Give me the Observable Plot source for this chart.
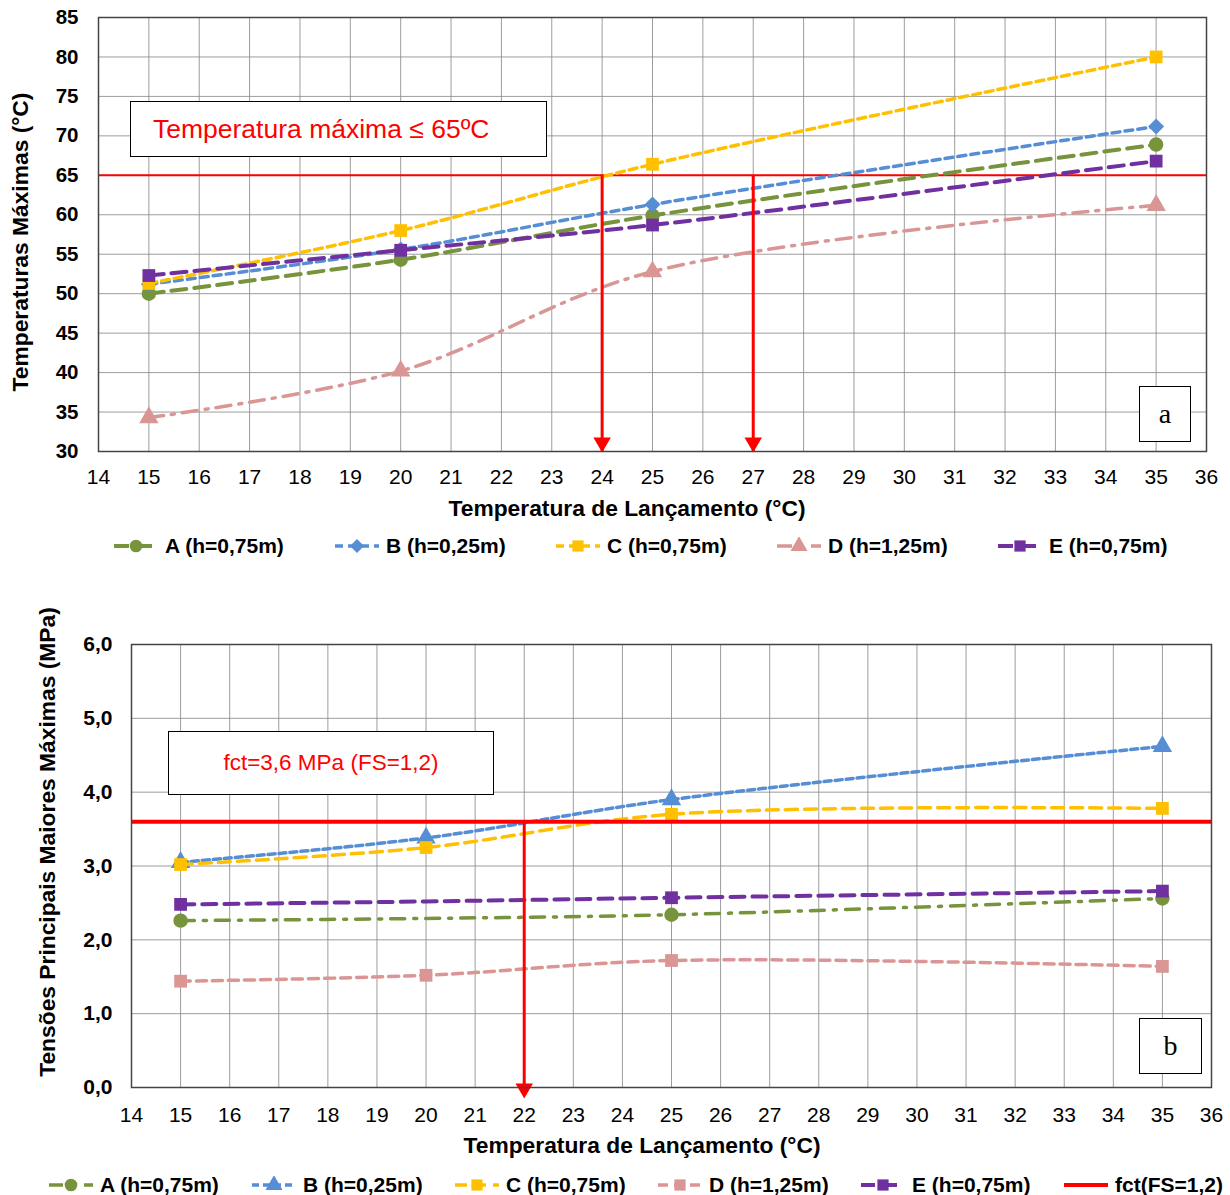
<!DOCTYPE html>
<html><head><meta charset="utf-8">
<script src="https://cdn.jsdelivr.net/npm/d3@7"></script>
<script src="https://cdn.jsdelivr.net/npm/@observablehq/plot@0.6"></script>
<style>
body{margin:0;background:#fff;font-family:"Liberation Sans",Arial,sans-serif;}
#root{position:relative;width:1230px;height:1195px;overflow:hidden;background:#fff;}
.panel{position:absolute;left:0;}
.panel svg{overflow:visible;}
.box{position:absolute;border:1.3px solid #000;background:#fff;box-sizing:border-box;display:flex;align-items:center;}
.title{position:absolute;font-weight:bold;font-size:22.8px;color:#000;white-space:nowrap;transform:translate(-50%,-50%);}
.ytitle{transform:translate(-50%,-50%) rotate(-90deg);}
.legend{position:absolute;display:flex;font-weight:bold;font-size:21px;white-space:nowrap;}
.legend .item{display:flex;align-items:center;}
.legend svg{margin-right:6px;}
.tag{font-family:"Liberation Serif","Times New Roman",serif;font-size:28px;justify-content:center;}
</style>
</head><body>
<div id="root"></div>
<script>
// ---------- data ----------
const launchTemps = [15, 20, 25, 35];
const seriesLabels = ["A (h=0,75m)", "B (h=0,25m)", "C (h=0,75m)", "D (h=1,25m)", "E (h=0,75m)"];
// panel a: maximum temperatures (°C)
const tempA = [50.0, 54.3, 59.9, 68.9];
const tempB = [51.2, 55.6, 61.3, 71.2];
const tempC = [51.3, 58.0, 66.4, 80.0];
const tempD = [34.3, 40.2, 52.8, 61.2];
const tempE = [52.3, 55.5, 58.7, 66.8];
// panel b: maximum principal stresses (MPa)
const stressA = [2.26, 2.29, 2.34, 2.56];
const stressB = [3.05, 3.38, 3.90, 4.62];
const stressC = [3.02, 3.25, 3.70, 3.78];
const stressD = [1.44, 1.52, 1.72, 1.64];
const stressE = [2.48, 2.52, 2.57, 2.66];
const tempLimit = 65;
const stressLimit = 3.6;
const tempArrowsAt = [24, 27];
const stressArrowsAt = [22];
const xTicks = d3.range(14, 37, 1);
const tempTicks = d3.range(30, 86, 5);
const stressTicks = [0, 1, 2, 3, 4, 5, 6];
const limitLegendLabel = "fct(FS=1,2)";

// ---------- styles ----------
const RED = "#FF0000";
const stylesA = [
  {color:"#77933C", dash:"15,8", symbol:"circle", width:4},
  {color:"#558ED5", dash:"8,5", symbol:"diamond2", width:3.5},
  {color:"#FFC000", dash:"8,5", symbol:"square", width:3.5},
  {color:"#D99694", dash:"15,8,3,8", symbol:"triangle", width:3.5},
  {color:"#7030A0", dash:"15,8", symbol:"square", width:4}
];
const stylesB = [
  {color:"#77933C", dash:"14,9,3,9", symbol:"circle", width:3.5, noMarkerAt:[20]},
  {color:"#558ED5", dash:"7,4", symbol:"triangle", width:3.5},
  {color:"#FFC000", dash:"12,7", symbol:"square", width:3.5},
  {color:"#D99694", dash:"10,6", symbol:"square", width:3.5},
  {color:"#7030A0", dash:"14,8", symbol:"square", width:4, noMarkerAt:[20]}
];

function toRows(values) { return launchTemps.map((t, i) => ({x: t, y: values[i]})); }

function seriesMarks(allValues, styles) {
  const marks = [];
  allValues.forEach((vals, i) => {
    const s = styles[i];
    const rows = toRows(vals);
    const hidden = s.noMarkerAt || [];
    marks.push(Plot.line(rows, {x:"x", y:"y", stroke:s.color, strokeWidth:s.width, strokeDasharray:s.dash, curve:"catmull-rom"}));
    marks.push(Plot.dot(rows.filter(r => !hidden.includes(r.x)), {x:"x", y:"y", symbol:s.symbol, fill:s.color, stroke:"none", r:7.2}));
  });
  return marks;
}

const root = document.getElementById("root");
const fmtComma = d => d.toFixed(1).replace(".", ",");
const baseStyle = {fontFamily: "'Liberation Sans', Arial, sans-serif", fontSize: "21px", color: "#000", background: "transparent"};

// ---------- panel a ----------
const plotA = Plot.plot({
  width: 1230, height: 525,
  marginTop: 17, marginRight: 24, marginBottom: 74, marginLeft: 98,
  style: baseStyle,
  x: {domain: [14, 36]},
  y: {domain: [30, 85]},
  marks: [
    Plot.gridX(xTicks, {stroke:"#8c8c8c", strokeOpacity:0.85, strokeWidth:1}),
    Plot.gridY(tempTicks, {stroke:"#8c8c8c", strokeOpacity:0.85, strokeWidth:1}),
    Plot.axisX({ticks: xTicks, tickSize: 0, tickPadding: 18, label: null, fontSize: 21}),
    Plot.axisY({ticks: tempTicks, tickSize: 0, tickPadding: 20, label: null, fontWeight: "bold", fontSize: 20.5}),
    Plot.ruleY([tempLimit], {stroke: RED, strokeWidth: 2}),
    ...seriesMarks([tempA, tempB, tempC, tempD, tempE], stylesA),
    Plot.ruleX(tempArrowsAt, {y1: tempLimit, y2: 30, stroke: RED, strokeWidth: 3}),
    Plot.dot(tempArrowsAt, {x: d => d, y: () => 30, symbol: "triangle", rotate: 180, r: 6.5, fill: RED, dy: -9}),
    Plot.frame({stroke: "#444", strokeWidth: 1.5})
  ]
});
const wrapA = document.createElement("div");
wrapA.className = "panel"; wrapA.style.top = "0px";
wrapA.appendChild(plotA);
root.appendChild(wrapA);

// ---------- panel b ----------
const plotB = Plot.plot({
  width: 1230, height: 560,
  marginTop: 44, marginRight: 19, marginBottom: 73, marginLeft: 131,
  style: baseStyle,
  x: {domain: [14, 36]},
  y: {domain: [0, 6]},
  marks: [
    Plot.gridX(xTicks, {stroke:"#8c8c8c", strokeOpacity:0.85, strokeWidth:1}),
    Plot.gridY(stressTicks, {stroke:"#8c8c8c", strokeOpacity:0.85, strokeWidth:1}),
    Plot.axisX({ticks: xTicks, tickSize: 0, tickPadding: 20, label: null, fontSize: 21}),
    Plot.axisY({ticks: stressTicks, tickSize: 0, tickPadding: 19, label: null, fontWeight: "bold", fontSize: 21, tickFormat: fmtComma}),
    ...seriesMarks([stressA, stressB, stressC, stressD, stressE], stylesB),
    Plot.ruleY([stressLimit], {stroke: RED, strokeWidth: 4}),
    Plot.ruleX(stressArrowsAt, {y1: stressLimit, y2: 0, stroke: RED, strokeWidth: 3}),
    Plot.dot(stressArrowsAt, {x: d => d, y: () => 0, symbol: "triangle", rotate: 180, r: 6.5, fill: RED, dy: 1}),
    Plot.frame({stroke: "#444", strokeWidth: 1.5})
  ]
});
const wrapB = document.createElement("div");
wrapB.className = "panel"; wrapB.style.top = "600px";
wrapB.appendChild(plotB);
root.appendChild(wrapB);

// ---------- overlays ----------
function addDiv(cls, css, html) {
  const d = document.createElement("div");
  d.className = cls; d.style.cssText = css; d.innerHTML = html;
  root.appendChild(d); return d;
}
addDiv("box", "left:130px;top:101px;width:417px;height:56px;color:#FF0000;font-size:26.5px;padding-left:22px;", "Temperatura máxima ≤ 65ºC");
addDiv("box tag", "left:1139px;top:386px;width:52px;height:56px;", "a");
addDiv("box", "left:168px;top:731px;width:326px;height:64px;color:#FF0000;font-size:22.5px;justify-content:center;", "fct=3,6 MPa (FS=1,2)");
addDiv("box tag", "left:1139px;top:1018px;width:63px;height:56px;", "b");

addDiv("title", "left:627px;top:508px;", "Temperatura de Lançamento (°C)");
addDiv("title ytitle", "left:20px;top:242px;", "Temperaturas Máximas (°C)");
addDiv("title", "left:642px;top:1145px;", "Temperatura de Lançamento (°C)");
addDiv("title ytitle", "left:47px;top:842px;", "Tensões Principais Maiores Máximas (MPa)");

// legends
function swatch(s, w) {
  const ns = "http://www.w3.org/2000/svg";
  const svg = document.createElementNS(ns, "svg");
  svg.setAttribute("width", 46); svg.setAttribute("height", 18);
  const line = document.createElementNS(ns, "line");
  line.setAttribute("x1", 1); line.setAttribute("x2", 45);
  line.setAttribute("y1", 9); line.setAttribute("y2", 9);
  line.setAttribute("stroke", s.color);
  line.setAttribute("stroke-width", w || s.width);
  if (s.dash) line.setAttribute("stroke-dasharray", s.dash);
  svg.appendChild(line);
  if (s.symbol) {
    const p = document.createElementNS(ns, "path");
    const sym = {circle: d3.symbolCircle, square: d3.symbolSquare, triangle: d3.symbolTriangle, diamond2: d3.symbolDiamond2}[s.symbol];
    p.setAttribute("d", d3.symbol(sym, Math.PI * 40)());
    p.setAttribute("transform", "translate(23,9)");
    p.setAttribute("fill", s.color);
    svg.appendChild(p);
  }
  return svg;
}
function legend(top, left, itemWidth, items) {
  const lg = addDiv("legend", `left:${left}px;top:${top}px;transform:translateY(-50%);`, "");
  items.forEach(it => {
    const d = document.createElement("div");
    d.className = "item"; d.style.width = itemWidth + "px";
    d.appendChild(swatch(it.style));
    const t = document.createElement("span"); t.textContent = it.label;
    d.appendChild(t); lg.appendChild(d);
  });
}
legend(546, 113, 221, seriesLabels.map((l, i) => ({label: l, style: stylesA[i]})));
legend(1185, 48, 203, [...seriesLabels.map((l, i) => ({label: l, style: stylesB[i]})),
  {label: limitLegendLabel, style: {color: RED, width: 4}}]);
</script>
</body></html>
